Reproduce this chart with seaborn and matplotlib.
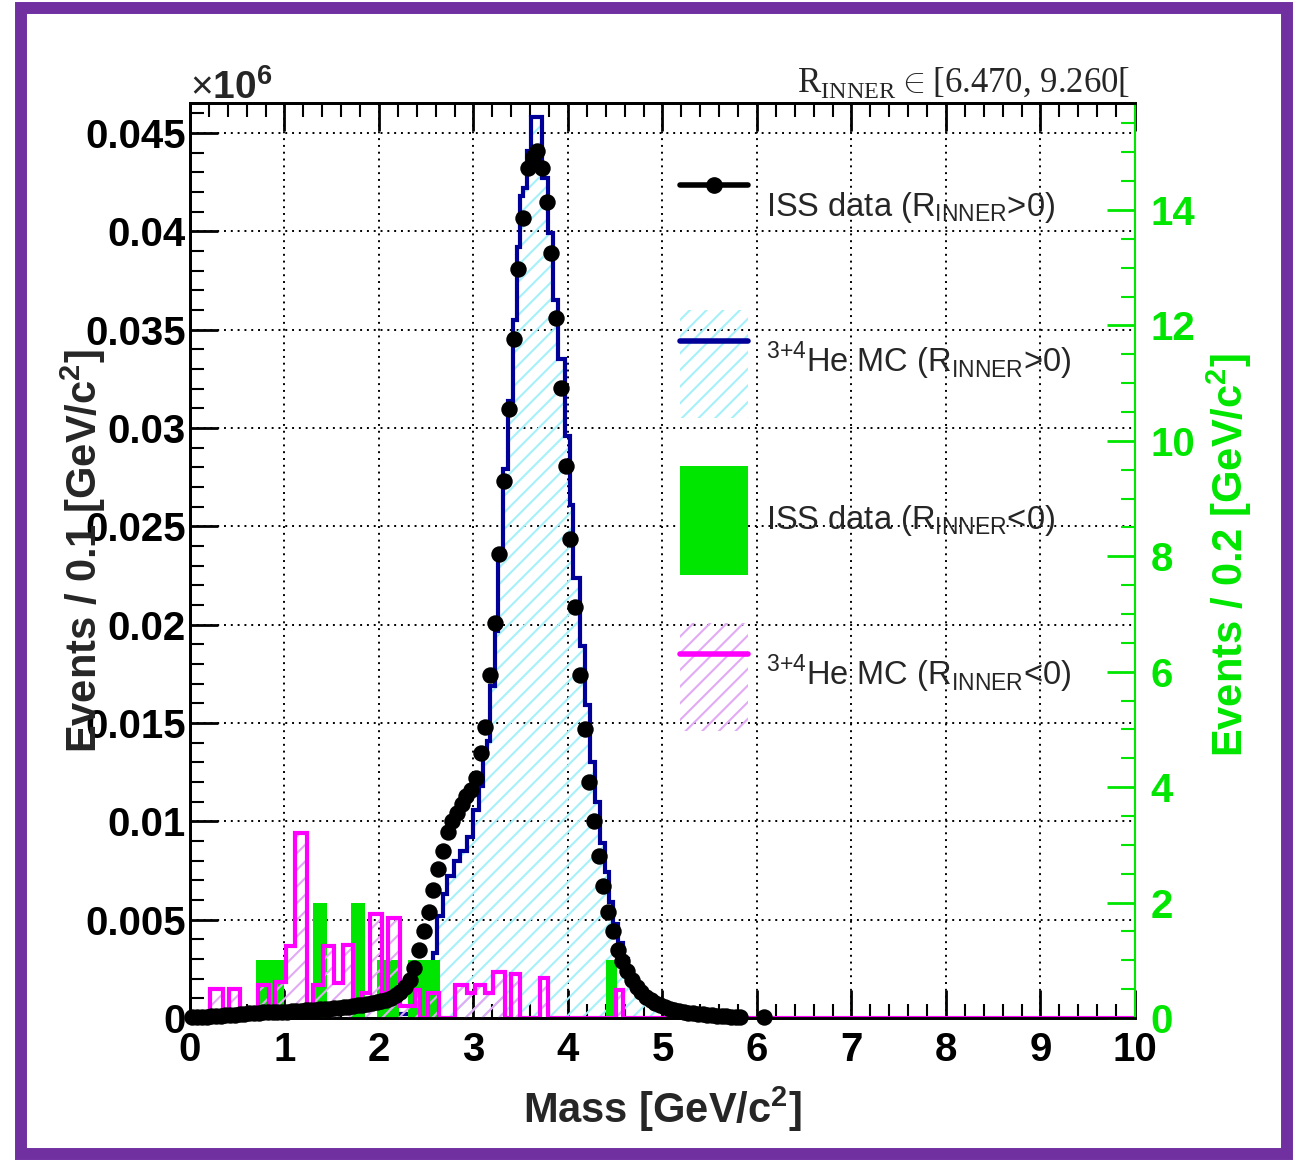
import numpy as np
import matplotlib
matplotlib.use("Agg")
import matplotlib.pyplot as plt
from matplotlib.patches import Patch, Rectangle
from matplotlib.lines import Line2D
from matplotlib.ticker import MultipleLocator
import seaborn as sns

sns.set_theme(style="white")
plt.rcParams['font.family'] = ['Liberation Sans', 'DejaVu Sans']
plt.rcParams['mathtext.fontset'] = 'custom'
plt.rcParams['mathtext.rm'] = 'Liberation Serif'
plt.rcParams['mathtext.sf'] = 'Liberation Sans'
plt.rcParams['mathtext.bf'] = 'Liberation Sans:bold'
plt.rcParams['hatch.linewidth'] = 1.5

# ISS data, R_INNER > 0 (left axis)
data_mass = [0.025, 0.075, 0.125, 0.175, 0.225, 0.275, 0.325, 0.375, 0.425, 0.475,
             0.525, 0.575, 0.625, 0.675, 0.725, 0.775, 0.825, 0.875, 0.925, 0.975,
             1.025, 1.075, 1.125, 1.175, 1.225, 1.275, 1.325, 1.375, 1.425, 1.475,
             1.525, 1.575, 1.625, 1.675, 1.725, 1.775, 1.825, 1.875, 1.925, 1.975,
             2.025, 2.075, 2.125, 2.175, 2.225, 2.275, 2.325, 2.375, 2.425, 2.475,
             2.525, 2.575, 2.625, 2.675, 2.725, 2.775, 2.825, 2.875, 2.925, 2.975,
             3.025, 3.075, 3.125, 3.175, 3.225, 3.275, 3.325, 3.375, 3.425, 3.475,
             3.525, 3.575, 3.625, 3.675, 3.725, 3.775, 3.825, 3.875, 3.925, 3.975,
             4.025, 4.075, 4.125, 4.175, 4.225, 4.275, 4.325, 4.375, 4.425, 4.475,
             4.525, 4.575, 4.625, 4.675, 4.725, 4.775, 4.825, 4.875, 4.925, 4.975,
             5.025, 5.075, 5.125, 5.175, 5.225, 5.275, 5.325, 5.375, 5.425, 5.475,
             5.525, 5.575, 5.625, 5.675, 5.725, 5.775, 5.825, 6.075]
data_events = [0.00004, 0.00005, 0.00006, 0.00007, 0.00008, 0.00010, 0.00011, 0.00013, 0.00015, 0.00017,
               0.00020, 0.00022, 0.00024, 0.00025, 0.00027, 0.00028, 0.00029, 0.00030, 0.00031, 0.00032,
               0.00033, 0.00035, 0.00036, 0.00037, 0.00039, 0.00040, 0.00042, 0.00044, 0.00046, 0.00048,
               0.00050, 0.00053, 0.00055, 0.00058, 0.00061, 0.00064, 0.00067, 0.00071, 0.00076, 0.00081,
               0.00087, 0.00093, 0.00102, 0.00115, 0.00132, 0.00158, 0.00195, 0.00255, 0.00345, 0.00440,
               0.00540, 0.00650, 0.00760, 0.00850, 0.00945, 0.01000, 0.01040, 0.01090, 0.01130, 0.01160,
               0.01220, 0.01350, 0.01480, 0.01745, 0.02010, 0.02360, 0.02730, 0.03095, 0.03455, 0.03810,
               0.04070, 0.04320, 0.04380, 0.04410, 0.04320, 0.04150, 0.03890, 0.03560, 0.03205, 0.02805,
               0.02435, 0.02090, 0.01745, 0.01470, 0.01200, 0.01000, 0.00825, 0.00670, 0.00540, 0.00440,
               0.00345, 0.00290, 0.00240, 0.00195, 0.00160, 0.00130, 0.00108, 0.00090, 0.00076, 0.00065,
               0.00056, 0.00048, 0.00041, 0.00036, 0.00031, 0.00027, 0.00024, 0.00021, 0.00018, 0.00016,
               0.00014, 0.00012, 0.00010, 0.00008, 0.00007, 0.00006, 0.00005, 0.00003]

# 3+4He MC, R_INNER > 0 (left axis)
mc_edges = [2.2, 2.4, 2.575, 2.61, 2.68, 2.716, 2.79, 2.857, 2.93, 3.0,
            3.062, 3.104, 3.14, 3.175, 3.228, 3.263, 3.316, 3.368, 3.42, 3.457,
            3.49, 3.527, 3.563, 3.61, 3.725, 3.79, 3.845, 3.897, 3.968, 4.02,
            4.056, 4.127, 4.18, 4.233, 4.286, 4.339, 4.392, 4.437, 4.48, 4.532,
            4.58, 4.63, 4.68, 4.73, 4.78, 4.83, 4.88, 4.93, 5.0, 5.1, 5.3, 5.6]
mc_events = [0.0002, 0.0004, 0.0033, 0.0052, 0.0063, 0.0072, 0.0080, 0.0085, 0.0092, 0.0106,
             0.0118, 0.0135, 0.0141, 0.0169, 0.0197, 0.0238, 0.0279, 0.0314, 0.0355, 0.0392,
             0.0418, 0.0422, 0.0441, 0.0458, 0.0427, 0.0399, 0.0365, 0.0335, 0.0296, 0.0261,
             0.0224, 0.0189, 0.0159, 0.0130, 0.0110, 0.0089, 0.0074, 0.0059, 0.0048, 0.0038,
             0.0030, 0.0024, 0.0019, 0.0015, 0.0012, 0.0010, 0.0008, 0.0006, 0.0004, 0.0002, 0.0001]

# ISS data, R_INNER < 0 (right axis)
neg_edges = [0.0, 0.7, 1.0, 1.3, 1.45, 1.7, 1.85, 1.98, 2.21, 2.31, 2.65, 4.4, 4.52, 10.0]
neg_events = [0, 1, 0, 2, 0, 2, 0, 1, 0, 1, 0, 1, 0]

# 3+4He MC, R_INNER < 0 (right axis)
negmc_edges = [0.0, 0.21, 0.35, 0.41, 0.53, 0.72, 0.84, 0.90, 1.02, 1.11,
               1.235, 1.30, 1.41, 1.52, 1.62, 1.73, 1.82, 1.905, 2.03, 2.10,
               2.22, 2.38, 2.43, 2.52, 2.63, 2.80, 2.93, 3.016, 3.12, 3.21,
               3.33, 3.40, 3.49, 3.70, 3.79, 4.51, 4.585, 10.0]
negmc_events = [0, 0.51, 0, 0.51, 0, 0.57, 0, 0.63, 1.24, 3.2,
                0, 0.57, 1.24, 0.6, 1.26, 0.28, 0.43, 1.81, 0.43, 1.73,
                0.2, 0.49, 0, 0.43, 0, 0.57, 0.44, 0.57, 0.44, 0.8,
                0, 0.76, 0, 0.7, 0, 0.49, 0]

left_ticks = [0, 0.005, 0.01, 0.015, 0.02, 0.025, 0.03, 0.035, 0.04, 0.045]
left_labels = ['0', '0.005', '0.01', '0.015', '0.02', '0.025', '0.03', '0.035', '0.04', '0.045']
right_ticks = [0, 2, 4, 6, 8, 10, 12, 14]
right_labels = ['0', '2', '4', '6', '8', '10', '12', '14']
mass_ticks = [0, 1, 2, 3, 4, 5, 6, 7, 8, 9, 10]
mass_labels = ['0', '1', '2', '3', '4', '5', '6', '7', '8', '9', '10']

navy = '#000099'
cyan_h = '#a6f0fa'
green = '#00e600'
magenta = '#ff00ff'
mag_h = '#e2aaf5'

fig = plt.figure(figsize=(13.01, 11.62), dpi=100)
ax = fig.add_axes([0.14604, 0.12392, 0.72636, 0.78744])

# MC R>0 hatched with navy outline
ax.stairs(mc_events, mc_edges, fill=True, facecolor='none', edgecolor=cyan_h,
          hatch='//', linewidth=0)
ax.stairs(mc_events, mc_edges, color=navy, linewidth=3)

ax.set_xlim(0, 10)
ax.set_ylim(0, 0.04653)
ax.grid(True, which='major', color='black', linestyle=(0, (1, 2.5)), linewidth=1.4)
ax.set_axisbelow(True)

ax.set_xticks(mass_ticks, mass_labels, fontweight='bold', fontsize=29)
ax.set_yticks(left_ticks, left_labels, fontweight='bold', fontsize=29)
ax.xaxis.set_minor_locator(MultipleLocator(0.2))
ax.yaxis.set_minor_locator(MultipleLocator(0.001))
ax.tick_params(axis='both', which='both', direction='in', top=True, bottom=True,
               left=True, right=False, colors='black')
ax.tick_params(axis='both', which='major', length=20, width=2)
ax.tick_params(axis='both', which='minor', length=10, width=1.5)
ax.tick_params(axis='x', pad=9)
ax.tick_params(axis='y', pad=3)
for s in ['left', 'bottom', 'top']:
    ax.spines[s].set_color('black')
    ax.spines[s].set_linewidth(2)
ax.spines['right'].set_visible(False)

ax.set_xlabel(r"Mass [GeV/c$^{\mathbf{2}}$]", fontsize=30, fontweight='bold')
ax.xaxis.set_label_coords(0.5, -0.073)
ax.set_ylabel(r"Events / 0.1 [GeV/c$^{\mathbf{2}}$]", fontsize=30, fontweight='bold')
ax.yaxis.set_label_coords(-0.087, 0.51)

# right axis: negative rigidity
ax2 = ax.twinx()
ax2.stairs(neg_events, neg_edges, fill=True, color=green, linewidth=0)
ax2.stairs(negmc_events, negmc_edges, fill=True, facecolor='none', edgecolor=mag_h,
           hatch='//', linewidth=0)
ax2.stairs(negmc_events, negmc_edges, color=magenta, linewidth=3)
ax2.set_ylim(0, 15.855)
ax2.set_yticks(right_ticks, right_labels, fontweight='bold', fontsize=29, color=green)
ax2.yaxis.set_minor_locator(MultipleLocator(0.5))
ax2.tick_params(axis='y', which='both', direction='in', right=True, left=False,
                colors=green, pad=11)
ax2.tick_params(axis='y', which='major', length=20, width=2)
ax2.tick_params(axis='y', which='minor', length=10, width=1.5)
ax2.spines['right'].set_color(green)
ax2.spines['right'].set_linewidth(1.5)
for s in ['left', 'bottom', 'top']:
    ax2.spines[s].set_color('black')
    ax2.spines[s].set_linewidth(2)
ax2.set_ylabel(r"Events / 0.2 [GeV/c$^{\mathbf{2}}$]", fontsize=30, fontweight='bold',
               color=green)
ax2.yaxis.set_label_coords(1.074, 0.506)

# data points on top
ax3 = ax.twinx()
ax3.set_ylim(ax.get_ylim())
ax3.axis('off')
sns.scatterplot(x=data_mass, y=data_events, ax=ax3, color='black', s=140,
                linewidth=0, clip_on=False, legend=False, zorder=5)

# legend
handles = [
    Line2D([], [], color='black', lw=4, marker='o', markersize=11),
    (Patch(facecolor='none', edgecolor=cyan_h, hatch='//', linewidth=0),
     Line2D([], [], color=navy, lw=4)),
    Patch(facecolor=green, edgecolor='none'),
    (Patch(facecolor='none', edgecolor=mag_h, hatch='//', linewidth=0),
     Line2D([], [], color=magenta, lw=4)),
]
labels = [
    r"ISS data (R$_{\mathsf{INNER}}$>0)",
    r"$^{\mathsf{3{+}4}}$He MC (R$_{\mathsf{INNER}}$>0)",
    r"ISS data (R$_{\mathsf{INNER}}$<0)",
    r"$^{\mathsf{3{+}4}}$He MC (R$_{\mathsf{INNER}}$<0)",
]
ax3.legend(handles, labels, loc='upper left', bbox_to_anchor=(0.5185, 0.944),
           frameon=False, fontsize=23.5, handlelength=2.09, handleheight=4.72,
           labelspacing=1.47, handletextpad=0.55, borderpad=0, borderaxespad=0)

ax.text(0.0, 1.004, "×" + r"$\mathbf{10^{6}}$", transform=ax.transAxes,
        fontsize=28, ha='left', va='baseline')
ax.text(0.9947, 1.012, r"R$_{\mathrm{INNER}}\in$[6.470, 9.260[", transform=ax.transAxes,
        fontsize=25, ha='right', va='baseline',
        family=['Liberation Serif', 'DejaVu Serif'])

fig.patches.append(Rectangle((21 / 1301, 8 / 1162), 1266 / 1301, 1146 / 1162,
                             transform=fig.transFigure, fill=False,
                             edgecolor='#7030a0', linewidth=8.6))

fig.savefig('out.png', dpi=100)
